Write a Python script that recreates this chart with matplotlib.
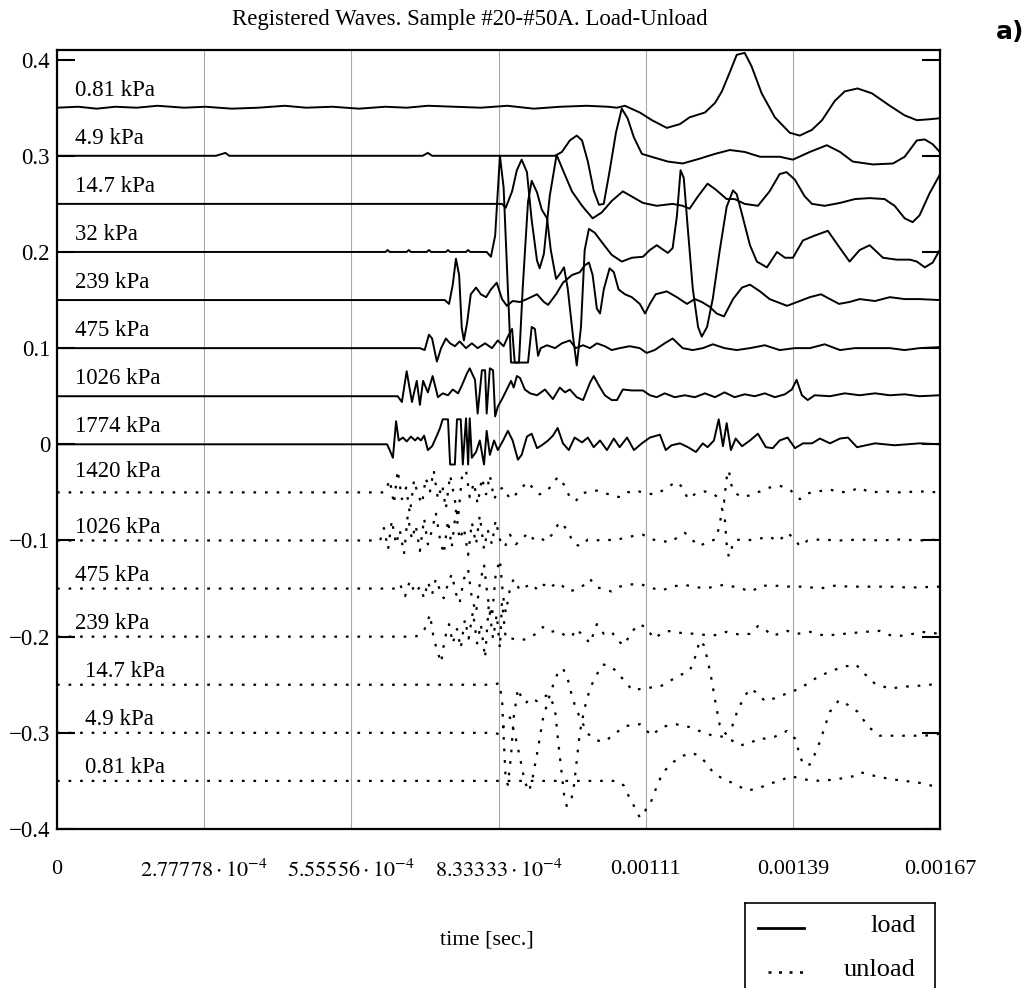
import numpy as np
import matplotlib.pyplot as plt

plt.rcParams['font.family'] = ['Liberation Serif', 'DejaVu Serif']
plt.rcParams['mathtext.fontset'] = 'stix'

# time in microseconds, amplitude offsets in units of 1e-3
# ---- load ----
t_081_load = [0, 40, 75, 110, 150, 190, 240, 280, 330, 380, 430, 470, 520, 570, 620, 660, 700, 750, 800, 850,
              900, 950, 1000, 1040, 1057, 1072, 1100, 1123, 1151, 1176, 1194, 1223, 1242, 1255, 1270, 1283, 1298,
              1311, 1330, 1355, 1383, 1402, 1425, 1444, 1468, 1487, 1511, 1538, 1572, 1600, 1623, 1647, 1666]
a_081_load = [0, 1, -1, 1, 0, 2, 0, 1, -1, 0, 2, 0, 1, -1, 1, 0, 2, 1, 0, 2,
              -1, 1, 2, 1, 0, 2, -5, -13, -21, -17, -10, -5, 5, 17, 37, 55, 57,
              43, 15, -10, -26, -29, -23, -13, 7, 17, 20, 15, 2, -8, -13, -12, -11]

t_49_load = [0, 300, 318, 325, 500, 690, 700, 708, 900, 940, 953, 968, 981, 991, 1002, 1013, 1023, 1032, 1043, 1055,
             1066, 1077, 1089, 1104, 1128, 1153, 1181, 1213, 1242, 1270, 1298, 1327, 1364, 1389, 1421, 1453, 1478,
             1502, 1540, 1578, 1600, 1623, 1638, 1653, 1666]
a_49_load = [0, 0, 3, 0, 0, 0, 3, 0, 0, 0, 4, 16, 21, 16, -6, -36, -51, -50, -16, 24,
             49, 39, 19, 2, -2, -6, -8, -3, 2, 6, 4, -1, -1, -4, 4, 11, 4,
             -6, -9, -8, -1, 16, 17, 12, 4]

t_147_load = [0, 840, 847, 859, 868, 877, 887, 896, 906, 911, 919, 930, 943, 955, 972, 991, 1011, 1028, 1047, 1068,
              1087, 1106, 1132, 1162, 1181, 1194, 1210, 1228, 1243, 1264, 1279, 1298, 1323, 1345, 1364, 1377, 1393,
              1411, 1425, 1449, 1478, 1506, 1534, 1562, 1581, 1600, 1615, 1628, 1647, 1666]
a_147_load = [0, 0, -4, 13, 35, 46, 33, -17, -59, -67, -52, 8, 51, 35, 13, -2, -15, -9, 3, 13,
              7, 1, -2, 0, -2, -5, 8, 21, 15, 5, 5, 0, -2, 13, 31, 33, 25,
              8, 0, -2, 1, 5, 6, 5, -2, -15, -19, -12, 11, 30]

t_32_load = [0, 620, 624, 628, 660, 664, 668, 698, 702, 706, 734, 738, 742, 772, 776, 780, 811, 819, 827, 836,
             843, 851, 857, 872, 879, 889, 896, 906, 915, 925, 932, 942, 949, 957, 964, 974, 981, 989, 996, 1004,
             1015, 1030, 1047, 1066, 1085, 1106, 1119, 1132, 1145, 1153, 1162, 1170, 1177, 1183, 1191, 1200, 1210,
             1217, 1227, 1238, 1251, 1264, 1276, 1283, 1294, 1308, 1321, 1340, 1359, 1374, 1389, 1408, 1430, 1455,
             1474, 1496, 1515, 1534, 1559, 1585, 1610, 1623, 1638, 1653, 1666]
a_32_load = [0, 0, 2, 0, 0, 2, 0, 0, 2, 0, 0, 2, 0, 0, 2, 0, 0, -5, 17, 100,
             67, -38, -115, -115, -38, 52, 74, 62, 44, 35, 2, -28, -23, -16, -38, -88, -118, -78, 2, 24,
             20, 9, -3, -10, -6, -5, 2, 7, 2, -1, 4, 37, 85, 77, 22, -38, -78,
             -88, -78, -48, 2, 47, 64, 60, 37, 7, -10, -16, 0, -6, -6, 12, 17, 22,
             7, -10, 2, 7, -6, -8, -8, -10, -16, -11, 2]

t_239_load = [0, 732, 740, 747, 753, 759, 764, 768, 774, 781, 791, 800, 810, 819, 830, 840, 849, 860, 874, 887,
              906, 919, 927, 942, 955, 972, 987, 996, 1004, 1011, 1019, 1025, 1032, 1043, 1051, 1060, 1072, 1085,
              1100, 1110, 1119, 1130, 1151, 1170, 1189, 1204, 1217, 1232, 1245, 1259, 1276, 1293, 1308, 1327, 1345,
              1378, 1402, 1421, 1442, 1459, 1476, 1496, 1515, 1544, 1572, 1600, 1628, 1666]
a_239_load = [0, 0, -4, 16, 43, 26, -29, -42, -24, 6, 13, 6, 3, 11, 18, 1, -6, -1, -2, 1,
              6, -2, -5, 6, 18, 26, 29, 36, 39, 26, -9, -14, 11, 33, 29, 11, 6, 3,
              -4, -14, -4, 6, 9, 3, -4, 1, -2, -7, -14, -17, 1, 13, 16, 9, 1,
              -6, -1, 3, 6, 1, -4, -2, 1, -1, 3, 1, 1, 0]

t_475_load = [0, 685, 694, 702, 708, 717, 725, 734, 742, 751, 760, 772, 783, 794, 808, 821, 832, 843, 851, 859,
              864, 889, 896, 902, 908, 913, 925, 940, 953, 968, 979, 993, 1006, 1019, 1034, 1047, 1062, 1081,
              1100, 1113, 1128, 1147, 1162, 1181, 1200, 1219, 1238, 1260, 1283, 1308, 1336, 1364, 1393, 1421,
              1449, 1478, 1506, 1534, 1572, 1600, 1628, 1666]
a_475_load = [0, 0, -2, 14, 10, -14, 0, 10, 5, 2, 7, 0, 5, 0, 5, 0, 8, 2, 12, 20,
              -15, -15, 22, 20, -8, 0, 3, 0, 5, 8, 0, 3, 0, 5, 2, -2, 0, 2,
              0, -5, -2, 5, 10, 0, -2, 0, 4, 0, -2, 0, 3, -2, 0, 0,
              4, -2, 0, 0, 0, -2, 0, 1]

t_1026_load = [0, 643, 651, 660, 670, 679, 685, 691, 700, 709, 719, 728, 738, 747, 757, 764, 774, 779, 789, 794,
               802, 808, 811, 817, 823, 827, 832, 840, 849, 857, 862, 868, 874, 883, 893, 906, 921, 936, 949, 959,
               968, 981, 993, 1006, 1013, 1023, 1034, 1047, 1057, 1068, 1085, 1106, 1119, 1132, 1147, 1166, 1185,
               1204, 1223, 1242, 1260, 1279, 1298, 1317, 1336, 1355, 1374, 1387, 1396, 1406, 1417, 1430, 1459,
               1487, 1515, 1544, 1572, 1600, 1628, 1666]
a_1026_load = [0, 0, -6, 26, -6, 16, -9, 16, 4, 21, -1, 3, 1, 7, 3, 11, 24, 29, 17, -18,
               27, 27, -18, 29, 27, -21, -11, -3, 7, 16, 9, 21, 19, 7, 3, 1, 7, -3, 9, 4,
               7, -1, -4, 14, 21, 11, 1, -4, -4, 7, 6, 6, 1, -1, 3, -1, 1,
               -1, 3, -1, 4, -1, 2, 0, 3, -1, 2, 7, 17, 1, -4, 1, 0,
               3, 1, 3, 1, 2, 0, 1]

t_1774_load = [0, 623, 628, 634, 640, 645, 653, 660, 668, 676, 681, 687, 693, 700, 708, 717, 723, 728, 738, 742,
               751, 755, 762, 766, 772, 776, 779, 783, 791, 798, 806, 811, 817, 825, 832, 842, 851, 860, 870, 877,
               887, 896, 906, 915, 927, 936, 945, 955, 966, 977, 991, 1002, 1013, 1025, 1038, 1051, 1062, 1076,
               1089, 1104, 1119, 1138, 1149, 1160, 1176, 1191, 1206, 1219, 1228, 1240, 1249, 1257, 1264, 1272,
               1281, 1293, 1308, 1323, 1338, 1351, 1364, 1379, 1393, 1408, 1425, 1440, 1459, 1478, 1493, 1510,
               1544, 1581, 1628, 1666]
a_1774_load = [0, 0, -6, -14, 24, 4, 7, 3, 8, 4, 7, 4, 9, -6, -2, 9, 17, 26, 26, -21,
               -21, 26, 26, -21, 27, -21, 27, -14, -8, 4, -21, 14, -11, 4, -6, 4, 14, 4, -16, -11,
               8, 11, -4, -1, 4, 9, 17, 1, -6, 7, 2, 7, -3, 4, -6, 6, -3, 7,
               -6, 1, 7, 10, -6, -1, 1, -3, -8, 1, -3, 4, 26, -2, 22, -6,
               6, -2, 4, 11, -3, -4, 4, 7, -4, 1, 1, 6, 1, 6, 7, -3,
               1, -1, 1, 0]

# ---- unload ----
t_1420_unload = [0, 619, 628, 636, 643, 651, 659, 666, 674, 681, 689, 696, 704, 711, 719, 727, 734, 742, 749, 757,
                 764, 772, 779, 787, 794, 802, 810, 817, 825, 834, 843, 855, 866, 877, 889, 900, 911, 923, 934, 945,
                 957, 968, 979, 991, 1006, 1021, 1036, 1051, 1064, 1077, 1093, 1110, 1128, 1147, 1160, 1170, 1181,
                 1191, 1206, 1223, 1240, 1251, 1259, 1264, 1268, 1274, 1281, 1293, 1308, 1327, 1345, 1364, 1383,
                 1402, 1417, 1436, 1459, 1478, 1496, 1515, 1534, 1562, 1591, 1628, 1666]
a_1420_unload = [0, 0, 13, -12, 23, -7, 5, -22, 13, -2, -12, 15, 1, 23, -7, 8, -17, 18, -2, -27,
                 15, 23, -5, 10, -12, 15, -2, 18, -7, 3, 5, -7, -2, 5, 11, 3, -2, 1, 7, 16,
                 8, -5, -9, -1, 1, 2, -1, -4, -5, 0, 2, -1, -2, 3, 8, 11, 5,
                 -7, -1, 1, -2, -7, -10, 15, 23, 5, -1, -5, -3, 1, 5, 7, 3,
                 -7, -1, 1, 3, 0, 1, 5, 0, 1, 0, 1, 0]

t_1026_unload = [0, 610, 617, 625, 632, 640, 647, 655, 662, 670, 677, 685, 693, 700, 708, 715, 723, 730, 738, 745,
                 753, 760, 768, 776, 783, 791, 798, 806, 813, 821, 828, 836, 845, 855, 866, 877, 889, 900, 911, 923,
                 934, 945, 953, 964, 977, 989, 1002, 1017, 1034, 1053, 1072, 1091, 1106, 1123, 1138, 1157, 1176,
                 1185, 1198, 1213, 1228, 1243, 1251, 1255, 1260, 1264, 1268, 1274, 1281, 1298, 1317, 1336, 1345,
                 1361, 1379, 1393, 1402, 1417, 1440, 1478, 1515, 1553, 1591, 1628, 1666]
a_1026_unload = [0, 0, 13, -9, 21, -4, 11, -14, 26, 1, 16, -11, 23, -4, 11, 29, 1, -14, 21, -7,
                 31, 1, 13, -15, 19, -4, 26, -9, 11, -4, 21, 1, -7, 6, -4, 1, 8, 1, 3, -1,
                 6, 16, 19, 9, -4, -6, 1, 0, 1, 0, 3, 5, 6, 1, 0, -2, 5,
                 8, 1, -6, -1, 1, 16, 33, 26, -4, -17, -7, 1, 0, 1, 3, 4,
                 -1, 8, 1, -6, 0, 1, 0, 1, 0, 1, 0, 1]

t_475_unload = [0, 638, 647, 657, 666, 676, 685, 693, 700, 708, 715, 723, 730, 738, 745, 753, 760, 768, 776, 783,
                791, 798, 806, 813, 821, 828, 836, 842, 847, 855, 862, 874, 885, 896, 908, 919, 930, 942, 953, 968,
                983, 996, 1006, 1017, 1032, 1047, 1062, 1077, 1100, 1119, 1142, 1160, 1183, 1202, 1223, 1240, 1260,
                1285, 1311, 1329, 1355, 1383, 1411, 1440, 1468, 1496, 1534, 1572, 1610, 1666]
a_475_unload = [0, 0, 5, -8, 8, -5, 2, -10, 7, -6, 10, -2, -10, 5, 15, -5, -15, 10, 20, -10,
                -25, 5, 25, -10, -30, 15, 30, -8, -25, 0, 10, -2, 2, 5, -2, 4, 0, 6, 3, -3,
                0, 4, 10, 2, -1, -3, 2, 4, 5, 1, -2, 2, 4, 2, 0, 2, 4,
                1, -3, 3, 3, 2, 2, 0, 3, 2, 2, 2, 1, 2]

t_239_unload = [0, 676, 685, 694, 704, 711, 719, 725, 732, 740, 747, 755, 762, 770, 777, 785, 793, 800, 808, 815,
                823, 830, 836, 840, 847, 859, 874, 889, 904, 917, 930, 945, 960, 972, 979, 994, 1006, 1019, 1032,
                1047, 1058, 1070, 1085, 1098, 1111, 1127, 1145, 1160, 1176, 1202, 1238, 1264, 1289, 1308, 1323,
                1336, 1349, 1364, 1378, 1398, 1421, 1449, 1487, 1525, 1553, 1575, 1600, 1632, 1666]
a_239_unload = [0, 0, 2, 8, 23, -2, -17, -27, -2, 13, -7, 8, -12, 18, -2, 26, -7, 13, -22, 33,
                -2, 23, -12, 36, -2, -2, -4, -2, 3, 10, 5, 6, 1, 0, 8, 1, -7, 13, 3,
                5, -4, -9, 5, 13, 10, -2, 5, 6, 4, 3, 1, 5, 2, 3, 11,
                8, 1, 3, 6, 3, 5, 1, 3, 5, 6, 1, 1, 5, 3]

t_147_unload = [0, 827, 834, 840, 843, 847, 851, 857, 862, 870, 877, 885, 894, 906, 917, 930, 940, 945, 951, 957,
                962, 970, 976, 981, 987, 996, 1006, 1017, 1030, 1043, 1058, 1072, 1087, 1104, 1119, 1138, 1157,
                1176, 1194, 1206, 1213, 1221, 1228, 1236, 1243, 1251, 1262, 1274, 1285, 1298, 1308, 1323, 1336,
                1355, 1378, 1402, 1430, 1459, 1487, 1508, 1525, 1544, 1572, 1600, 1628, 1666]
a_147_unload = [0, 0, 2, -14, -54, -99, -104, -74, -34, -4, -14, -19, -14, -17, -12, -11, -26, -54, -84, -114,
                -126, -122, -104, -79, -49, -24, -4, 9, 21, 20, 13, 3, -6, -4, -3, -2, 4,
                10, 14, 31, 46, 41, 26, 4, -19, -42, -51, -44, -26, -12, -4, -9, -17,
                -14, -9, -4, 6, 14, 19, 21, 11, 1, -4, -2, -1, 1]

t_49_unload = [0, 827, 836, 845, 855, 864, 874, 883, 891, 898, 908, 917, 927, 936, 945, 955, 964, 974, 983, 993,
               1002, 1019, 1034, 1053, 1072, 1100, 1123, 1140, 1168, 1194, 1217, 1238, 1257, 1274, 1289, 1308,
               1323, 1336, 1355, 1378, 1393, 1400, 1408, 1421, 1434, 1442, 1449, 1459, 1476, 1493, 1511, 1532,
               1553, 1581, 1610, 1638, 1666]
a_49_unload = [0, 0, -2, 9, 16, -1, -26, -51, -61, -46, -16, 14, 34, 49, 62, 67, 56, 34, 21, 9,
               -1, -8, -9, -1, 7, 9, -3, 6, 9, 6, 1, -3, -4, -8, -13, -11,
               -6, -6, -4, 2, -6, -19, -33, -33, -18, -6, 6, 22, 34, 29, 22, 6,
               -3, -3, -3, -3, -1]

t_081_unload = [0, 1053, 1062, 1070, 1081, 1093, 1100, 1106, 1113, 1119, 1127, 1134, 1144, 1162, 1176, 1196, 1210,
                1225, 1238, 1257, 1279, 1302, 1323, 1344, 1364, 1385, 1406, 1430, 1459, 1487, 1504, 1517, 1530,
                1545, 1572, 1600, 1628, 1659, 1666]
a_081_unload = [0, 0, -1, -5, -18, -30, -38, -36, -28, -25, -13, -3, 9, 19, 25, 29, 27,
                19, 9, 2, -3, -10, -8, -3, 0, 5, 2, 0, 1, 3, 5, 9, 7,
                5, 2, 0, -2, -6, -7]

labels_load = ['0.81 kPa', '4.9 kPa', '14.7 kPa', '32 kPa', '239 kPa', '475 kPa', '1026 kPa', '1774 kPa']
offsets_load = [0.35, 0.30, 0.25, 0.20, 0.15, 0.10, 0.05, 0.0]
labels_unload = ['1420 kPa', '1026 kPa', '475 kPa', '239 kPa', '14.7 kPa', '4.9 kPa', '0.81 kPa']
offsets_unload = [-0.05, -0.10, -0.15, -0.20, -0.25, -0.30, -0.35]

load_t = [t_081_load, t_49_load, t_147_load, t_32_load, t_239_load, t_475_load, t_1026_load, t_1774_load]
load_a = [a_081_load, a_49_load, a_147_load, a_32_load, a_239_load, a_475_load, a_1026_load, a_1774_load]
unload_t = [t_1420_unload, t_1026_unload, t_475_unload, t_239_unload, t_147_unload, t_49_unload, t_081_unload]
unload_a = [a_1420_unload, a_1026_unload, a_475_unload, a_239_unload, a_147_unload, a_49_unload, a_081_unload]

x_ticks = [0, 1 / 3600, 2 / 3600, 3 / 3600, 4 / 3600, 5 / 3600, 6 / 3600]
x_tick_labels = ['0', r'$2.77778\cdot10^{-4}$', r'$5.55556\cdot10^{-4}$', r'$8.33333\cdot10^{-4}$',
                 '0.00111', '0.00139', '0.00167']
y_ticks = [0.4, 0.3, 0.2, 0.1, 0.0, -0.1, -0.2, -0.3, -0.4]
y_tick_labels = ['0.4', '0.3', '0.2', '0.1', '0', '\u22120.1', '\u22120.2', '\u22120.3', '\u22120.4']

DOTS = (0, (1.2, 4.0))

W, H = 1033, 988
fig = plt.figure(figsize=(W / 100, H / 100), dpi=100)
ax = fig.add_axes([57 / W, 1 - 829 / H, 883 / W, 779 / H])

for t, a, off, lab in zip(load_t, load_a, offsets_load, labels_load):
    ax.plot(np.array(t) * 1e-6, off + np.array(a) * 1e-3, color='black', lw=1.4)
    ax.text(3.4e-5, off + 0.018, lab, fontsize=16.5, va='center', ha='left')

for i, (t, a, off, lab) in enumerate(zip(unload_t, unload_a, offsets_unload, labels_unload)):
    ax.plot(np.array(t) * 1e-6, off + np.array(a) * 1e-3, color='black', lw=1.6, ls=DOTS)
    xl = 3.4e-5 if i < 4 else 5.3e-5
    dy = 0.022 if i == 0 else 0.014
    ax.text(xl, off + dy, lab, fontsize=16.5, va='center', ha='left')

ax.set_xlim(0, 6 / 3600)
ax.set_ylim(-0.4, 0.41)
ax.set_xticks(x_ticks)
ax.set_xticklabels(x_tick_labels)
ax.set_yticks(y_ticks)
ax.set_yticklabels(y_tick_labels)
ax.tick_params(axis='x', length=0, pad=22, labelsize=16)
ax.tick_params(axis='y', direction='in', length=13, width=1.5, right=True, labelsize=16.5, pad=5)
ax.grid(axis='x', color='#a8a8a8', lw=0.8)
for s in ax.spines.values():
    s.set_linewidth(1.6)

fig.text(470 / W, 1 - 20 / H, 'Registered Waves. Sample #20-#50A. Load-Unload', ha='center', va='center',
         fontsize=16.5)
fig.text(1010 / W, 1 - 32 / H, 'a)', ha='center', va='center', fontsize=18, fontweight='bold',
         family='DejaVu Sans')
fig.text(487 / W, 1 - 940 / H, 'time [sec.]', ha='center', va='center', fontsize=16)

# legend box, bottom edge runs past the figure
lax = fig.add_axes([745 / W, 1 - 995 / H, 190 / W, 92 / H])
lax.set_xlim(0, 1)
lax.set_ylim(0, 1)
lax.set_xticks([])
lax.set_yticks([])
for s in lax.spines.values():
    s.set_linewidth(1.2)
lax.plot([0.07, 0.31], [0.73, 0.73], color='black', lw=2)
lax.plot([0.12, 0.34], [0.25, 0.25], color='black', lw=1.8, ls=(0, (1.2, 3.0)))
lax.text(0.9, 0.75, 'load', ha='right', va='center', fontsize=19)
lax.text(0.9, 0.27, 'unload', ha='right', va='center', fontsize=19)

fig.savefig('out.png', dpi=100)
